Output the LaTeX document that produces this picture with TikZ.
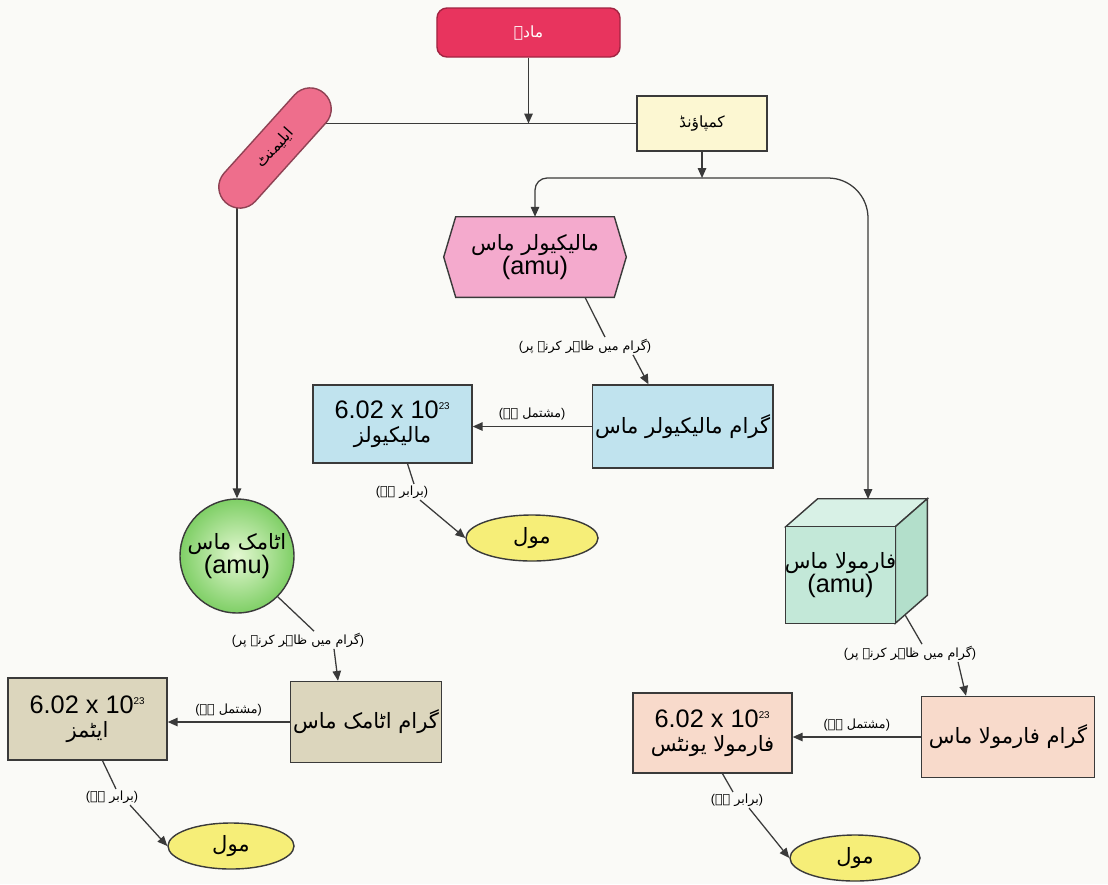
\documentclass[tikz,border=0pt]{standalone}
\usepackage{fontspec}
\setmainfont{Liberation Sans}
\newfontfamily\ur[Script=Arabic]{DejaVu Sans}
\TeXXeTstate=1
\usetikzlibrary{arrows.meta,shapes.geometric,backgrounds}
\definecolor{bg}{HTML}{FAFAF7}
\definecolor{ln}{HTML}{3A3A3A}
\definecolor{topred}{HTML}{E8345E}
\definecolor{pillpink}{HTML}{EE6E8C}
\definecolor{cmpy}{HTML}{FCF7D2}
\definecolor{hexp}{HTML}{F4AACD}
\definecolor{bluef}{HTML}{C0E3EE}
\definecolor{moly}{HTML}{F6EE78}
\definecolor{tanf}{HTML}{DCD6BD}
\definecolor{cubef}{HTML}{C3E8D8}
\definecolor{cubet}{HTML}{D8F1E6}
\definecolor{cubes}{HTML}{B3DFCB}
\definecolor{peach}{HTML}{F8DACB}
\definecolor{greenout}{HTML}{7FCF66}
\definecolor{greenin}{HTML}{E4F8D2}
\newcommand{\U}[1]{{\ur\beginR #1\endR}}
\newcommand{\sixe}{6.02 x 10\textsuperscript{\scriptsize 23}}
\tikzset{
  arr/.style={draw=ln, line width=0.9pt, -{Triangle[length=7pt,width=6pt]}},
  con/.style={draw=ln, line width=0.9pt},
  boxn/.style={draw=ln, line width=1pt, align=center, inner sep=2pt},
  lbl/.style={font=\fontsize{9}{11}\selectfont, inner sep=1pt},
  big/.style={font=\fontsize{15}{19}\selectfont},
  molst/.style={ellipse, draw=ln, line width=1pt, fill=moly, minimum width=3.3cm, minimum height=1.15cm, inner sep=0pt, font=\fontsize{15}{18}\selectfont}
}
\begin{document}
\begin{tikzpicture}[x=0.025cm,y=-0.025cm]
\useasboundingbox (0,0) rectangle (1108,884);
% top
\node[draw=topred!70!black, line width=1pt, fill=topred, rounded corners=0.25cm, minimum width=4.575cm, minimum height=1.225cm, text=white, font=\fontsize{11}{13}\selectfont] (top) at (528.5,32.5) {\U{مادہ}};
% element pill
\node[draw=pillpink!60!black, line width=1pt, fill=pillpink, rounded corners=0.52cm, minimum width=3.675cm, minimum height=1.05cm, rotate=48, font=\fontsize{11}{13}\selectfont] (el) at (275,148) {\U{ایلیمنٹ}};
% compound
\node[boxn, fill=cmpy, minimum width=3.25cm, minimum height=1.375cm, font=\fontsize{11}{13}\selectfont] (cmp) at (702,123.5) {\U{کمپاؤنڈ}};
% molecular mass hexagon
\node[minimum width=4.55cm, minimum height=2cm, align=center, big, inner sep=0pt] (mm) at (535,257) {};
\draw[draw=ln, line width=1pt, fill=hexp] (mm.west) -- ([xshift=0.3cm]mm.north west) -- ([xshift=-0.3cm]mm.north east) -- (mm.east) -- ([xshift=-0.3cm]mm.south east) -- ([xshift=0.3cm]mm.south west) -- cycle;
\node[align=center, big] at (mm.center) {\U{مالیکیولر ماس}\\[-2pt]\fontsize{18}{20}\selectfont(amu)};
% gram molecular mass
\node[boxn, fill=bluef, minimum width=4.125cm, minimum height=2.075cm, big] (gmm) at (682.5,426.5) {\U{گرام مالیکیولر ماس}};
\node[boxn, fill=bluef, minimum width=3.975cm, minimum height=1.95cm, big] (m6) at (392.5,424) {{\fontsize{18}{20}\selectfont\sixe}\\[-2pt]\U{مالیکیولز}};
\node[molst] (mol1) at (532,538) {\U{مول}};
% atomic
\node[circle, draw=ln, line width=1pt, inner color=greenin, outer color=greenout, minimum size=2.85cm, align=center, big, inner sep=0pt] (am) at (237,556) {\U{اٹامک ماس}\\[-2pt]\fontsize{18}{20}\selectfont(amu)};
\node[boxn, fill=tanf, minimum width=3.45cm, minimum height=2.025cm, big] (gam) at (366,722) {\U{گرام اٹامک ماس}};
\node[boxn, fill=tanf, minimum width=3.975cm, minimum height=2.05cm, big] (a6) at (87.5,719) {{\fontsize{18}{20}\selectfont\sixe}\\[-2pt]\U{ایٹمز}};
\node[molst, minimum width=3.15cm] (mol2) at (231,846) {\U{مول}};
% formula cube
\node[minimum width=2.725cm, minimum height=2.4cm, inner sep=0pt] (fm) at (840.5,575) {};
\draw[draw=ln, line width=1pt, fill=cubet] (fm.north west) -- ++(0.8cm,0.7cm) -- ([shift={(0.8cm,0.7cm)}]fm.north east) -- (fm.north east) -- cycle;
\draw[draw=ln, line width=1pt, fill=cubes] (fm.north east) -- ++(0.8cm,0.7cm) -- ([shift={(0.8cm,0.7cm)}]fm.south east) -- (fm.south east) -- cycle;
\draw[draw=ln, line width=1pt, fill=cubef] (fm.north west) rectangle (fm.south east);
\node[align=center, big] at (fm.center) {\U{فارمولا ماس}\\[-2pt]\fontsize{18}{20}\selectfont(amu)};
\node[boxn, fill=peach, minimum width=4.325cm, minimum height=2.025cm, big] (gfm) at (1008,737) {\U{گرام فارمولا ماس}};
\node[boxn, fill=peach, minimum width=3.975cm, minimum height=2cm, big] (f6) at (712.5,733) {{\fontsize{18}{20}\selectfont\sixe}\\[-2pt]\U{فارمولا یونٹس}};
\node[molst, minimum width=3.25cm] (mol3) at (855,858) {\U{مول}};
% labels
\node[lbl] (lb1) at (585,346) {(\U{گرام میں ظاہر کرنے پر})};
\node[lbl] (lb2) at (402,492) {(\U{برابر ہے})};
\node[lbl] (lb3) at (298,640) {(\U{گرام میں ظاہر کرنے پر})};
\node[lbl] (lb4) at (112,797) {(\U{برابر ہے})};
\node[lbl] (lb5) at (910,653) {(\U{گرام میں ظاہر کرنے پر})};
\node[lbl] (lb6) at (737,800) {(\U{برابر ہے})};
% connectors
\coordinate (j0) at (top.south |- cmp.west);
\coordinate (j2) at (702,178);
\coordinate (ctop) at (868,499);
\coordinate (elb) at (237,192);
\begin{pgfonlayer}{background}
\fill[bg] (0,0) rectangle (1108,884);
\draw[con] (cmp.west) -- (el.center |- cmp.west);
\draw[arr] (elb) -- (am.north);
\end{pgfonlayer}
\draw[arr] (top.south) -- (j0);
\draw[arr] (cmp.south) -- (j2);
\draw[arr, rounded corners=0.3cm] (j2) -| (mm.north);
\draw[arr, rounded corners=1cm] (j2) -| (ctop);
% molecular chain
\draw[con] ([xshift=1.25cm]mm.south) -- ([xshift=0.5cm]lb1.north);
\draw[arr] ([xshift=1.2cm]lb1.south) -- ([xshift=-0.85cm]gmm.north);
\draw[arr] (gmm.west) -- (gmm.west -| m6.east) node[lbl, midway, above=3pt] {(\U{مشتمل ہے})};
\draw[con] ([xshift=0.375cm]m6.south) -- ([xshift=0.3cm]lb2.north);
\draw[arr] ([xshift=0.45cm]lb2.south) -- (mol1.west);
% atomic chain
\draw[con] (am.-45) -- ([xshift=0.4cm]lb3.north);
\draw[arr] ([xshift=0.9cm]lb3.south) -- ([xshift=-0.7cm]gam.north);
\draw[arr] (gam.west) -- (gam.west -| a6.east) node[lbl, midway, above=3pt] {(\U{مشتمل ہے})};
\draw[con] ([xshift=0.375cm]a6.south) -- ([xshift=0.1cm]lb4.north);
\draw[arr] ([xshift=0.45cm]lb4.south) -- (mol2.west);
% formula chain
\draw[con] ([shift={(0.25cm,0.2cm)}]fm.south east) -- ([xshift=0.3cm]lb5.north);
\draw[arr] ([xshift=1.2cm]lb5.south) -- ([xshift=-1.05cm]gfm.north);
\draw[arr] (gfm.west) -- (gfm.west -| f6.east) node[lbl, midway, above=3pt] {(\U{مشتمل ہے})};
\draw[con] ([xshift=0.25cm]f6.south) -- ([xshift=-0.1cm]lb6.north);
\draw[arr] ([xshift=0.3cm]lb6.south) -- (mol3.west);
\end{tikzpicture}
\end{document}
